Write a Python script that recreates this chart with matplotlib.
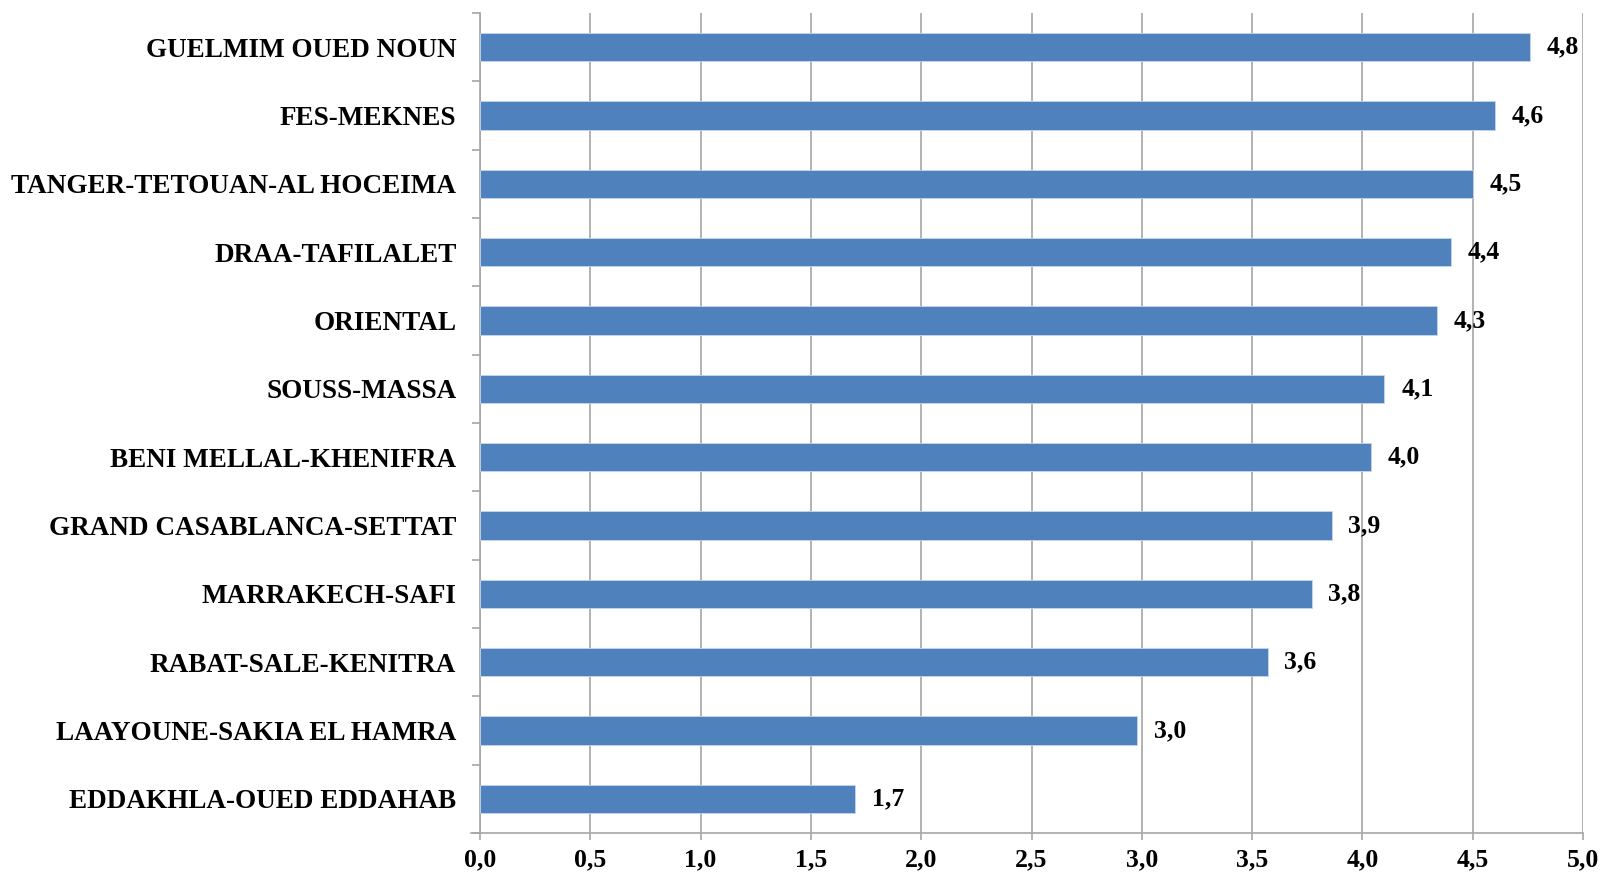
import matplotlib
matplotlib.use("Agg")
import matplotlib.pyplot as plt
import numpy as np

regions = [
    "GUELMIM OUED NOUN",
    "FES-MEKNES",
    "TANGER-TETOUAN-AL HOCEIMA",
    "DRAA-TAFILALET",
    "ORIENTAL",
    "SOUSS-MASSA",
    "BENI MELLAL-KHENIFRA",
    "GRAND CASABLANCA-SETTAT",
    "MARRAKECH-SAFI",
    "RABAT-SALE-KENITRA",
    "LAAYOUNE-SAKIA EL HAMRA",
    "EDDAKHLA-OUED EDDAHAB",
]
values = [4.76, 4.60, 4.50, 4.40, 4.34, 4.10, 4.04, 3.86, 3.77, 3.57, 2.98, 1.70]
xticks = [0.0, 0.5, 1.0, 1.5, 2.0, 2.5, 3.0, 3.5, 4.0, 4.5, 5.0]

FONT = "Liberation Serif"
BAR = "#4F81BD"
GRID = "#a6a6a6"

fig = plt.figure(figsize=(16.02, 8.77), dpi=100)
ax = fig.add_axes([480 / 1602, 1 - 833 / 877, (1583 - 480) / 1602, (833 - 13) / 877])

y = np.arange(len(regions))
ax.barh(y, values, height=0.41, color=BAR, edgecolor="#c6d6ea", linewidth=0.6, zorder=3)

ax.set_ylim(len(regions) - 0.5, -0.5)
ax.set_xlim(0, 5.0)

ax.set_xticks(xticks)
ax.set_xticklabels([f"{t:.1f}".replace(".", ",") for t in xticks],
                   fontfamily=FONT, fontweight="bold", fontsize=18.5)
ax.set_yticks(y)
ax.set_yticklabels(regions, fontfamily=FONT, fontweight="bold", fontsize=19.5)
ax.set_yticks(np.arange(len(regions) + 1) - 0.5, minor=True)

ax.tick_params(axis="y", which="major", length=0, pad=17)
ax.tick_params(axis="y", which="minor", length=6, width=1.2, color=GRID, direction="out")
ax.tick_params(axis="x", which="major", length=5, width=1.2, color=GRID, pad=6)

ax.grid(axis="x", color=GRID, linewidth=1.2, zorder=0)
ax.set_axisbelow(True)

for s in ["top", "right"]:
    ax.spines[s].set_visible(False)
for s in ["left", "bottom"]:
    ax.spines[s].set_color(GRID)
    ax.spines[s].set_linewidth(1.2)
ax.spines["bottom"].set_bounds(-0.04, 5.0)

for yi, v in zip(y, values):
    ax.annotate(f"{v:.1f}".replace(".", ","), xy=(v, yi), xytext=(12, 0),
                textcoords="offset points", va="center", ha="left",
                fontfamily=FONT, fontweight="bold", fontsize=18.5, zorder=4)

fig.savefig("out.png", dpi=100)
